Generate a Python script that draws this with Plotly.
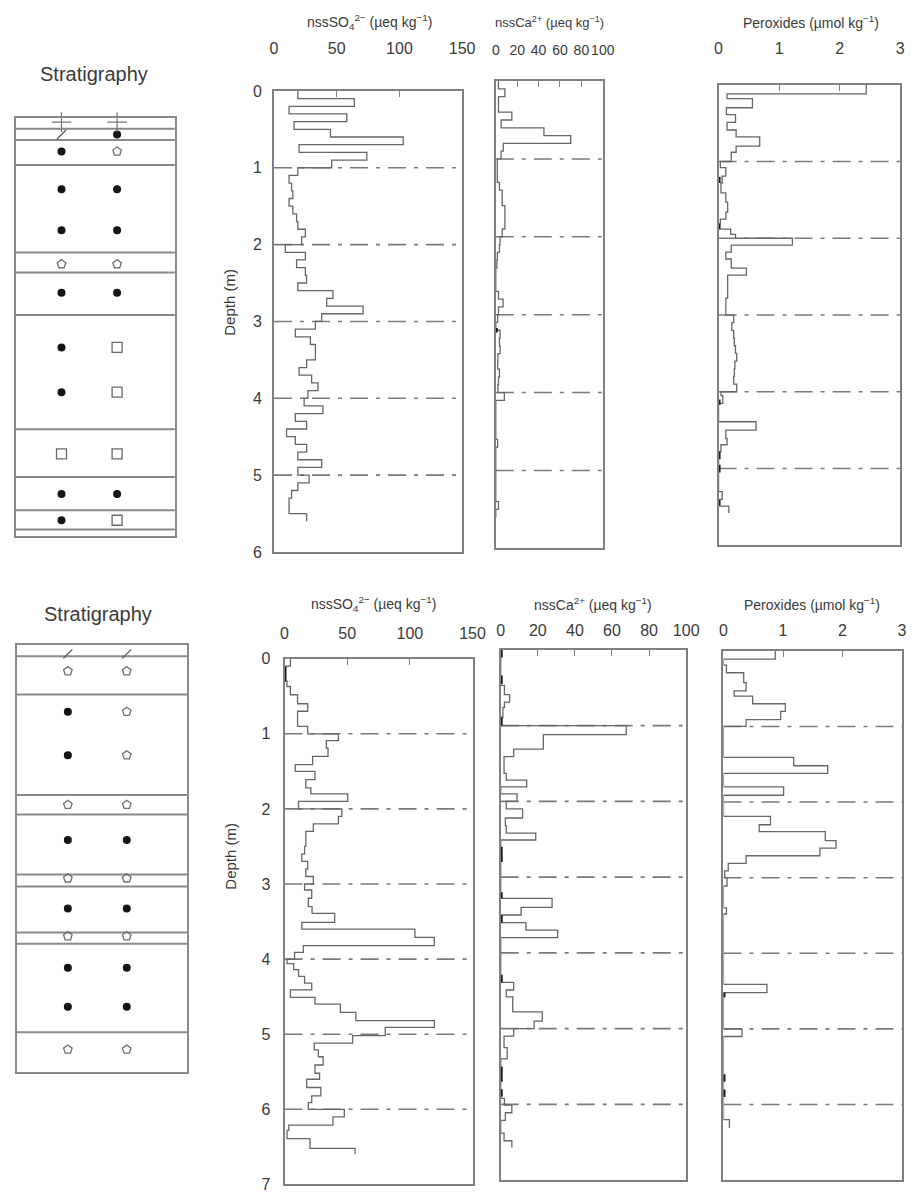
import plotly.graph_objects as go

W, H = 919, 1200
OFF = 8  # default page body margin (px) in the browser
FW, FH = W - OFF, H - OFF

# ===================== DATA =====================
# ---- Upper core (0-6 m) ----
top_so4_depth = [0.0, 0.1, 0.2, 0.3, 0.4, 0.5, 0.6, 0.7, 0.8, 0.9,
                 1.0, 1.1, 1.2, 1.3, 1.4, 1.5, 1.6, 1.7, 1.8, 1.9,
                 2.0, 2.1, 2.2, 2.3, 2.4, 2.5, 2.6, 2.7, 2.8, 2.9,
                 3.0, 3.1, 3.2, 3.3, 3.4, 3.5, 3.6, 3.7, 3.8, 3.9,
                 4.0, 4.1, 4.2, 4.3, 4.4, 4.5, 4.6, 4.7, 4.8, 4.9,
                 5.0, 5.1, 5.2, 5.3, 5.4, 5.5]
top_so4_end = 5.6
top_so4 = [19, 64, 12, 58, 16, 45, 103, 20, 74, 46,
           19, 12, 14, 15, 12, 15, 18, 19, 25, 22,
           9, 25, 18, 25, 26, 19, 47, 42, 71, 38,
           33, 17, 29, 33, 33, 26, 20, 30, 35, 27,
           24, 39, 17, 26, 10, 17, 26, 19, 38, 19,
           28, 19, 14, 12, 12, 26]

top_ca_depth = top_so4_depth
top_ca_end = 5.6
top_ca = [2.5, 8.5, 2.5, 2.5, 15, 5, 45, 70, 7, 5,
          1.4, 1.4, 1.4, 3.4, 6, 6, 8.5, 8.5, 8.5, 6,
          4, 3.4, 1.5, 1, 0, 0, 0, 2.5, 6.8, 2.5,
          1.7, 0, 4, 3.4, 4, 2, 1.7, 3.4, 2.5, 2,
          8, 0, 0, 0, 0, 0, 1.7, 0, 0, 0,
          0, 0, 0, 0, 2.5, 0]

top_per_depth = [0, 0.12, 0.18, 0.3, 0.39, 0.49, 0.59, 0.68, 0.8, 0.88,
                 1.0, 1.08, 1.19, 1.28, 1.41, 1.53, 1.66, 1.75, 1.81, 1.88, 1.95,
                 2.0, 2.09, 2.18, 2.27, 2.39, 2.48, 2.78,
                 3.0, 3.1, 3.2, 3.3, 3.4, 3.5, 3.6, 3.7, 3.8, 3.9,
                 4.0, 4.05, 4.15, 4.39, 4.5, 4.61, 4.69, 4.78,
                 5.3, 5.4, 5.49]
top_per_end = 5.58
top_per = [2.44, 0.14, 0.56, 0.13, 0.28, 0.14, 0.29, 0.68, 0.29, 0.21,
           0.03, 0.12, 0.06, 0.04, 0.12, 0.15, 0.12, 0.03, 0.0, 0.2, 0.28,
           1.22, 0.21, 0.12, 0.21, 0.46, 0.15, 0.12,
           0.25, 0.22, 0.25, 0.26, 0.28, 0.3, 0.27, 0.26, 0.25, 0.3,
           0.04, 0.07, 0, 0.62, 0.12, 0.14, 0.04, 0,
           0.06, 0, 0.17]

top_ca_gaps = [(3.17, 3.23)]
top_per_gaps = [(1.2, 1.28), (1.81, 1.88), (4.1, 4.17), (4.78, 4.88), (4.95, 5.05), (5.41, 5.48)]

# ---- Lower core (0-7 m) ----
bot_so4_depth = [0, 0.1, 0.3, 0.37, 0.48, 0.6, 0.7, 0.9, 1.0, 1.09,
                 1.19, 1.3, 1.41, 1.5, 1.61, 1.72, 1.8, 1.9, 2.0, 2.1,
                 2.2, 2.3, 2.5, 2.6, 2.7, 2.8, 2.9, 3.0, 3.08, 3.19,
                 3.3, 3.39, 3.51, 3.6, 3.71, 3.82, 3.91, 4.0, 4.06, 4.14,
                 4.23, 4.32, 4.41, 4.51, 4.6, 4.71, 4.82, 4.91, 5.02, 5.12,
                 5.21, 5.3, 5.41, 5.52, 5.6, 5.71, 5.82, 5.91, 6.0, 6.1,
                 6.21, 6.28, 6.39, 6.52]
bot_so4_end = 6.6
bot_so4 = [4.7, 0.5, 2, 4.7, 10.4, 18.5, 10.4, 18.5, 43, 33.4,
           34.7, 22.4, 8.6, 24.3, 17, 21, 50.4, 11.2, 45.7, 43,
           23, 17, 16, 13.8, 18.5, 17, 23, 16, 21.7, 19,
           22, 40, 13.8, 104, 119.5, 15, 8, 2, 7.3, 11.2,
           16, 21.7, 4.7, 24.3, 44.6, 56.9, 119.5, 80.4, 54.3, 23.7,
           27, 30.8, 24.3, 28, 17.7, 29, 21.7, 19, 47.7, 38.6,
           3.4, 2, 20.3, 56.3]

bot_ca_depth = [0, 0.47, 0.59, 0.69, 0.76, 0.89,
                1.0, 1.12, 1.31, 1.41, 1.63, 1.72, 1.81, 1.9,
                2.0, 2.1, 2.22, 2.32, 2.42, 2.51,
                3.28, 3.4, 3.5, 3.6, 3.7, 3.8,
                4.39, 4.49, 4.58, 4.78, 4.9,
                5.0, 5.1, 5.25, 5.4,
                5.92, 6.01, 6.11, 6.21, 6.38, 6.48]
bot_ca_end = 6.57
bot_ca = [0, 2, 4.8, 2, 1.2, 0,
          67.7, 23, 7, 1.8, 3, 14, 0, 8.8,
          3, 11.8, 2.5, 3, 18.9, 0,
          27.7, 11, 0, 13.6, 30.7, 0,
          7, 3, 6.5, 22.4, 18,
          7, 1.8, 3.5, 0,
          2, 6, 2.5, 0, 1.8, 6]

bot_per_depth = [0, 0.11, 0.19, 0.29, 0.42, 0.53, 0.6, 0.7, 0.8, 0.91,
                 1.0, 1.41, 1.52, 1.62, 1.8, 1.91,
                 2.19, 2.3, 2.39, 2.51, 2.61, 2.71, 2.81, 2.91,
                 3.0, 3.11, 3.4, 3.48,
                 4.41, 4.52,
                 5.0, 5.1,
                 6.2]
bot_per_end = 6.31
bot_per = [0.87, 0, 0.05, 0.34, 0.38, 0.18, 0.49, 1.04, 0.96, 0.38,
           0, 1.18, 1.75, 0, 1.01, 0,
           0.79, 0.6, 1.71, 1.89, 1.62, 0.38, 0.08, 0.02,
           0.06, 0, 0.05, 0,
           0.73, 0,
           0.31, 0,
           0.1]

bot_so4_gaps = [(0.1, 0.3)]
bot_ca_gaps = [(0.0, 0.1), (0.34, 0.45), (0.89, 1.0), (2.6, 2.8), (3.2, 3.28),
               (3.5, 3.6), (4.29, 4.39), (5.5, 5.7), (5.8, 5.9)]
bot_per_gaps = [(4.52, 4.58), (5.6, 5.7), (5.8, 5.9)]

top_dash_depths = [1, 2, 3, 4, 5]
bot_dash_depths = [1, 2, 3, 4, 5, 6]

top_depth_ticks = [0, 1, 2, 3, 4, 5, 6]
bot_depth_ticks = [0, 1, 2, 3, 4, 5, 6, 7]
so4_ticks = [0, 50, 100, 150]
ca_ticks = [0, 20, 40, 60, 80, 100]
per_ticks = [0, 1, 2, 3]

# ---- Stratigraphy columns (layer boundaries in m, symbols: column, depth, kind) ----
top_strat_bottom = 5.43
top_strat_bounds = [0.146, 0.29, 0.616, 1.75, 2.01, 2.56, 4.04, 4.66, 5.09, 5.34]
top_strat_symbols = [
    (0, 0.06, 'plus'), (1, 0.06, 'plus'),
    (0, 0.22, 'slash'), (1, 0.22, 'dot'),
    (0, 0.44, 'dot'), (1, 0.44, 'open'),
    (0, 0.93, 'dot'), (1, 0.93, 'dot'), (0, 1.46, 'dot'), (1, 1.46, 'dot'),
    (0, 1.9, 'open'), (1, 1.9, 'open'),
    (0, 2.27, 'dot'), (1, 2.27, 'dot'),
    (0, 2.98, 'dot'), (1, 2.98, 'square'), (0, 3.56, 'dot'), (1, 3.56, 'square'),
    (0, 4.36, 'square'), (1, 4.36, 'square'),
    (0, 4.88, 'dot'), (1, 4.88, 'dot'),
    (0, 5.22, 'dot'), (1, 5.22, 'square'),
]
bot_strat_bottom = 5.69
bot_strat_bounds = [0.15, 0.66, 2.0, 2.26, 3.06, 3.22, 3.83, 3.98, 5.16]
bot_strat_symbols = [
    (0, 0.12, 'slash'), (1, 0.12, 'slash'),
    (0, 0.35, 'open'), (1, 0.35, 'open'),
    (0, 0.89, 'dot'), (1, 0.89, 'open'), (0, 1.47, 'dot'), (1, 1.47, 'open'),
    (0, 2.13, 'open'), (1, 2.13, 'open'),
    (0, 2.6, 'dot'), (1, 2.6, 'dot'),
    (0, 3.11, 'open'), (1, 3.11, 'open'),
    (0, 3.51, 'dot'), (1, 3.51, 'dot'),
    (0, 3.88, 'open'), (1, 3.88, 'open'),
    (0, 4.3, 'dot'), (1, 4.3, 'dot'), (0, 4.82, 'dot'), (1, 4.82, 'dot'),
    (0, 5.39, 'open'), (1, 5.39, 'open'),
]

# ===================== STYLE / LAYOUT =====================
LINE = '#808080'
TRACE = '#666666'
DASH = '#7a7a7a'
TXT = '#3a3a3a'
FONT = 'Liberation Sans, Arial, Helvetica, sans-serif'

symbol_style = {
    'dot': dict(symbol='circle', size=8, color='#151515', line=dict(width=0)),
    'open': dict(symbol='pentagon-open', size=9, color='#707070', line=dict(width=1.3, color='#707070')),
    'square': dict(symbol='square-open', size=10, color='#6a6a6a', line=dict(width=1.3, color='#6a6a6a')),
    'plus': dict(symbol='cross-thin-open', size=14, color='#777777', line=dict(width=1.2, color='#777777')),
    'slash': dict(symbol='line-ne-open', size=9, color='#555555', line=dict(width=1.3, color='#555555')),
}


def px_x(x):
    return (x - OFF) / FW


def px_y(y):
    return 1 - (y - OFF) / FH


# pixel boxes (x0, y0, x1, y1) in window coordinates
panels = [
    dict(kind='strat', box=(11.7, 111, 174, 536), ymax=top_strat_bottom,
         bounds=top_strat_bounds, symbols=top_strat_symbols, colx=(0.288, 0.637)),
    dict(kind='data', box=(275, 84, 466.7, 551.7), xmax=150, ymax=6, ticks=so4_ticks, standoff=29,
         tsize=16, depth_ticks=top_depth_ticks, dstand=7,
         d=top_so4_depth, v=top_so4, end=top_so4_end, gaps=[], dash=top_dash_depths),
    dict(kind='data', box=(501, 74, 610, 548), xmax=100, ymax=6, ticks=ca_ticks, standoff=19,
         tsize=14, depth_ticks=None, dstand=0,
         d=top_ca_depth, v=top_ca, end=top_ca_end, gaps=top_ca_gaps, dash=top_dash_depths),
    dict(kind='data', box=(728, 77.7, 913, 545), xmax=3, ymax=6, ticks=per_ticks, standoff=23,
         tsize=16, depth_ticks=None, dstand=0,
         d=top_per_depth, v=top_per, end=top_per_end, gaps=top_per_gaps, dash=top_dash_depths),
    dict(kind='strat', box=(12.7, 646, 186.7, 1079.3), ymax=bot_strat_bottom,
         bounds=bot_strat_bounds, symbols=bot_strat_symbols, colx=(0.30, 0.645)),
    dict(kind='data', box=(285.7, 660, 477.3, 1193.3), xmax=150, ymax=7, ticks=so4_ticks, standoff=12,
         tsize=16, depth_ticks=bot_depth_ticks, dstand=9,
         d=bot_so4_depth, v=bot_so4, end=bot_so4_end, gaps=bot_so4_gaps, dash=bot_dash_depths),
    dict(kind='data', box=(506, 651, 695, 1189), xmax=100, ymax=7, ticks=ca_ticks, standoff=6,
         tsize=16, depth_ticks=None, dstand=0,
         d=bot_ca_depth, v=bot_ca, end=bot_ca_end, gaps=bot_ca_gaps, dash=bot_dash_depths),
    dict(kind='data', box=(733, 652, 915, 1189), xmax=3, ymax=7, ticks=per_ticks, standoff=7,
         tsize=16, depth_ticks=None, dstand=0,
         d=bot_per_depth, v=bot_per, end=bot_per_end, gaps=bot_per_gaps, dash=bot_dash_depths),
]

fig = go.Figure()
layout = dict(width=FW, height=FH, autosize=False, margin=dict(l=0, r=0, t=0, b=0),
              paper_bgcolor='white', plot_bgcolor='white', showlegend=False,
              font=dict(family=FONT, color=TXT, size=16))

for i, p in enumerate(panels, start=1):
    x0, y0, x1, y1 = p['box']
    xd = [max(0, px_x(x0)), min(1, px_x(x1))]
    yd = [max(0, px_y(y1)), min(1, px_y(y0))]
    xa = 'x' if i == 1 else f'x{i}'
    ya = 'y' if i == 1 else f'y{i}'
    xkey = 'xaxis' if i == 1 else f'xaxis{i}'
    ykey = 'yaxis' if i == 1 else f'yaxis{i}'

    if p['kind'] == 'strat':
        layout[xkey] = dict(domain=xd, range=[0, 1], anchor=ya, showline=True, mirror=True,
                            linecolor='#8a8a8a', linewidth=2, showgrid=False, zeroline=False,
                            showticklabels=False, ticks='', fixedrange=True)
        layout[ykey] = dict(domain=yd, range=[p['ymax'], 0], anchor=xa, showline=True, mirror=True,
                            linecolor='#8a8a8a', linewidth=2, showgrid=False, zeroline=False,
                            showticklabels=False, ticks='', fixedrange=True)
        bx, by = [], []
        for b in p['bounds']:
            bx += [0, 1, None]
            by += [b, b, None]
        fig.add_trace(go.Scatter(x=bx, y=by, mode='lines', xaxis=xa, yaxis=ya,
                                 line=dict(color='#8a8a8a', width=2), hoverinfo='skip'))
        for kind, st in symbol_style.items():
            pts = [s for s in p['symbols'] if s[2] == kind]
            if not pts:
                continue
            fig.add_trace(go.Scatter(
                x=[p['colx'][c] for c, _, _ in pts], y=[d for _, d, _ in pts],
                mode='markers', xaxis=xa, yaxis=ya, marker=st, hoverinfo='skip',
                cliponaxis=False))
        continue

    layout[xkey] = dict(domain=xd, range=[0, p['xmax']], anchor=ya, side='top',
                        tickvals=p['ticks'], ticks='inside', ticklen=6, tickwidth=1.2, tickcolor=LINE,
                        ticklabelstandoff=p['standoff'], tickangle=0,
                        tickfont=dict(size=p['tsize'], color=TXT),
                        showline=True, mirror=True, linecolor=LINE, linewidth=1.6,
                        showgrid=False, zeroline=False, fixedrange=True)
    ydict = dict(domain=yd, range=[p['ymax'], 0], anchor=xa, showline=True, mirror=True,
                 linecolor=LINE, linewidth=1.6, showgrid=False, zeroline=False, fixedrange=True)
    if p['depth_ticks'] is not None:
        ydict.update(tickvals=p['depth_ticks'], ticks='', ticklabelstandoff=p['dstand'],
                     tickfont=dict(size=16, color=TXT))
    else:
        ydict.update(showticklabels=False, ticks='')
    layout[ykey] = ydict

    # dash-dot depth markers
    hx, hy = [], []
    for d in p['dash']:
        hx += [0, p['xmax'], None]
        hy += [d, d, None]
    fig.add_trace(go.Scatter(x=hx, y=hy, mode='lines', xaxis=xa, yaxis=ya,
                             line=dict(color=DASH, width=1.6, dash='18px,8px,4px,8px'),
                             hoverinfo='skip'))
    # profile as steps
    xs = list(p['v']) + [p['v'][-1]]
    ys = list(p['d']) + [p['end']]
    fig.add_trace(go.Scatter(x=xs, y=ys, mode='lines', xaxis=xa, yaxis=ya,
                             line=dict(color=TRACE, width=1.3, shape='vh'), hoverinfo='skip'))
    # small black marks on the axis
    if p['gaps']:
        gx, gy = [], []
        for a, b in p['gaps']:
            gx += [0, 0, None]
            gy += [a, b, None]
        fig.add_trace(go.Scatter(x=gx, y=gy, mode='lines', xaxis=xa, yaxis=ya,
                                 line=dict(color='#1a1a1a', width=4), hoverinfo='skip'))


def ann(text, x, y, size, angle=0):
    return dict(text=text, x=px_x(x), y=px_y(y), xref='paper', yref='paper',
                showarrow=False, xanchor='center', yanchor='middle', textangle=angle,
                font=dict(family=FONT, size=size, color=TXT))


so4_title = 'nssSO<sub>4</sub><sup>2−</sup> (µeq kg<sup>−1</sup>)'
ca_title = 'nssCa<sup>2+</sup> (µeq kg<sup>−1</sup>)'
per_title = 'Peroxides (µmol kg<sup>−1</sup>)'

layout['annotations'] = [
    ann('Stratigraphy', 92, 67, 20),
    ann('Stratigraphy', 96, 615, 20),
    ann(so4_title, 372, 14, 14),
    ann(ca_title, 556, 14, 13),
    ann(per_title, 822, 14, 14),
    ann(so4_title, 376, 604, 14),
    ann(ca_title, 600, 604, 14),
    ann(per_title, 823, 604, 14),
    ann('Depth (m)', 230, 298, 15, -90),
    ann('Depth (m)', 231, 860, 15, -90),
]

fig.update_layout(**layout)
fig.write_html('out.html')
